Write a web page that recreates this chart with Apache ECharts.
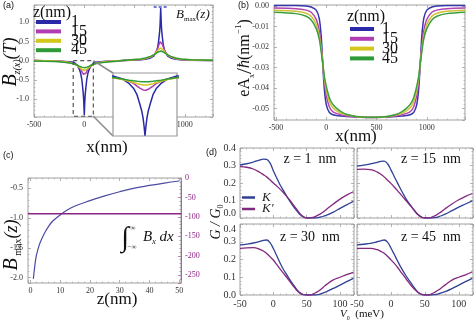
<!DOCTYPE html>
<html><head><meta charset="utf-8">
<script src="https://cdn.jsdelivr.net/npm/echarts@6/dist/echarts.min.js"></script>
<style>html,body{margin:0;padding:0;background:#fff}#c{width:474px;height:327px}</style>
</head><body><div id="c"></div>
<script>
// ================= DATA =================
// panel (a): Bz(x) in T, for z = 1, 15, 30, 45 nm
const zLevels = ['1', '15', '30', '45'];
const aX = [-500,-300,-200,-150,-100,-70,-50,-36,-25,-16,-10,-6,-3,0,3,6,10,16,25,36,50,70,100,150,200,300,380,
  460,560,610,660,690,710,724,735,744,750,754,757,760,763,766,770,776,785,796,810,830,860,910,960,1060,1280];
const aZ1 = [0,-0.01,-0.02,-0.03,-0.05,-0.12,-0.22,-0.33,-0.48,-0.70,-0.86,-1.02,-1.20,-1.42,-1.20,-1.02,-0.86,-0.70,-0.48,-0.33,-0.22,-0.12,-0.05,-0.03,-0.02,-0.01,0,
  0.01,0.02,0.035,0.07,0.12,0.2,0.28,0.42,0.62,0.78,0.95,1.15,1.37,1.15,0.95,0.78,0.62,0.42,0.28,0.2,0.12,0.07,0.035,0.02,0.01,0];
const aZ15 = [0,-0.01,-0.025,-0.04,-0.09,-0.12,-0.17,-0.22,-0.28,-0.33,-0.355,-0.37,-0.377,-0.38,-0.377,-0.37,-0.355,-0.33,-0.28,-0.22,-0.17,-0.12,-0.09,-0.04,-0.025,-0.01,0,
  0.012,0.028,0.045,0.09,0.14,0.21,0.28,0.36,0.43,0.47,0.49,0.5,0.5,0.5,0.49,0.47,0.43,0.36,0.28,0.21,0.14,0.09,0.045,0.028,0.012,0];
const aZ30 = [0,-0.012,-0.03,-0.05,-0.09,-0.13,-0.17,-0.2,-0.225,-0.24,-0.25,-0.255,-0.258,-0.26,-0.258,-0.255,-0.25,-0.24,-0.225,-0.2,-0.17,-0.13,-0.09,-0.05,-0.03,-0.012,0,
  0.015,0.035,0.055,0.1,0.15,0.2,0.245,0.28,0.305,0.318,0.325,0.33,0.33,0.33,0.325,0.318,0.305,0.28,0.245,0.2,0.15,0.1,0.055,0.035,0.015,0];
const aZ45 = [-0.008,-0.02,-0.045,-0.065,-0.085,-0.12,-0.145,-0.16,-0.17,-0.177,-0.181,-0.183,-0.184,-0.185,-0.184,-0.183,-0.181,-0.177,-0.17,-0.16,-0.145,-0.12,-0.085,-0.065,-0.045,-0.02,0,
  0.02,0.045,0.07,0.11,0.15,0.18,0.205,0.225,0.24,0.246,0.249,0.25,0.25,0.25,0.249,0.246,0.24,0.225,0.205,0.18,0.15,0.11,0.07,0.045,0.02,0.008];
const insetX = [-100, 100];
const insetY = [-1.43, 0.02];
const zoomBoxX = [-110, 90];
const zoomBoxY = [0.0, -1.45];
const bmaxLineX = [690, 830];
const bmaxLineY = 1.40;

// panel (b): eA_x/hbar (nm^-1)
const bX = [-520,-300,-200,-150,-100,-70,-50,-35,-20,0,30,60,100,150,200,300,450,600,700,750,800,840,870,900,920,935,950,970,1000,1050,1100,1200,1380];
const bZ1  = [0.0002,0.0002,0,-0.0005,-0.002,-0.006,-0.015,-0.028,-0.040,-0.048,-0.0518,-0.0528,-0.0533,-0.0536,-0.0538,-0.054,-0.0541,-0.054,-0.0538,-0.0536,-0.0533,-0.0528,-0.0518,-0.048,-0.040,-0.028,-0.015,-0.006,-0.002,-0.0005,0,0.0002,0.0002];
const bZ15 = [-0.001,-0.0013,-0.002,-0.003,-0.0065,-0.012,-0.0195,-0.028,-0.0365,-0.0435,-0.049,-0.0512,-0.0523,-0.053,-0.0535,-0.054,-0.0543,-0.054,-0.0535,-0.053,-0.0523,-0.0512,-0.049,-0.0435,-0.0365,-0.028,-0.0195,-0.012,-0.0065,-0.003,-0.002,-0.0013,-0.001];
const bZ30 = [-0.002,-0.0025,-0.0035,-0.005,-0.009,-0.0145,-0.021,-0.028,-0.035,-0.041,-0.0465,-0.0492,-0.051,-0.0523,-0.053,-0.0539,-0.0543,-0.0539,-0.053,-0.0523,-0.051,-0.0492,-0.0465,-0.041,-0.035,-0.028,-0.021,-0.0145,-0.009,-0.005,-0.0035,-0.0025,-0.002];
const bZ45 = [-0.003,-0.0037,-0.005,-0.0068,-0.011,-0.016,-0.0225,-0.028,-0.034,-0.039,-0.0445,-0.0475,-0.0497,-0.0515,-0.0527,-0.0538,-0.0543,-0.0538,-0.0527,-0.0515,-0.0497,-0.0475,-0.0445,-0.039,-0.034,-0.028,-0.0225,-0.016,-0.011,-0.0068,-0.005,-0.0037,-0.003];

// panel (c): Bmax(z) and integral of Bx
const cZ = [1,1.5,2,3,4,5,6,7,8,10,12,15,20,25,30,35,40,45,50];
const cBmax = [-2.02,-1.8,-1.63,-1.45,-1.33,-1.23,-1.15,-1.08,-1.03,-0.95,-0.88,-0.8,-0.71,-0.63,-0.56,-0.5,-0.455,-0.415,-0.38];
const cIntZ = [-0.8, 50.6];
const cInt = [-92, -92];

// panel (d): G/G0 vs V0 (meV)
const dV = [-50,-40,-30,-20,-15,-10,-5,0,5,10,15,20,25,30,35,40,45,50,55,60,65,70,75,80,90,100,110,120];
const dTitles = ['z = 1  nm', 'z = 15  nm', 'z = 30  nm', 'z = 45  nm'];
const dK1  = [0.303,0.31,0.32,0.332,0.337,0.335,0.315,0.27,0.23,0.19,0.158,0.125,0.095,0.067,0.042,0.02,0.006,0,0,0,0.001,0.005,0.01,0.016,0.034,0.055,0.075,0.095];
const dKp1 = [0.293,0.29,0.28,0.26,0.248,0.235,0.218,0.2,0.183,0.165,0.145,0.124,0.1,0.075,0.05,0.025,0.008,0,0,0.004,0.012,0.022,0.035,0.05,0.08,0.108,0.131,0.15];
const dK15  = [0.297,0.302,0.309,0.318,0.324,0.325,0.31,0.275,0.236,0.198,0.16,0.125,0.093,0.066,0.042,0.02,0.006,0,0,0,0.002,0.007,0.014,0.022,0.042,0.062,0.08,0.098];
const dKp15 = [0.278,0.279,0.277,0.262,0.25,0.235,0.216,0.198,0.177,0.155,0.132,0.11,0.087,0.065,0.04,0.018,0.004,0,0,0.004,0.013,0.025,0.038,0.053,0.08,0.104,0.124,0.14];
const dK30  = [0.282,0.287,0.293,0.302,0.308,0.31,0.295,0.262,0.222,0.182,0.145,0.115,0.085,0.058,0.032,0.012,0.002,0,0,0,0.001,0.005,0.012,0.019,0.037,0.056,0.075,0.094];
const dKp30 = [0.263,0.266,0.267,0.257,0.248,0.234,0.216,0.197,0.172,0.147,0.123,0.1,0.075,0.05,0.027,0.01,0.002,0,0,0.006,0.016,0.028,0.044,0.06,0.085,0.1,0.115,0.128];
const dK45  = [0.282,0.286,0.291,0.3,0.305,0.31,0.298,0.265,0.228,0.19,0.154,0.122,0.092,0.066,0.038,0.015,0.003,0,0,0,0.002,0.007,0.013,0.019,0.036,0.056,0.075,0.094];
const dKp45 = [0.263,0.263,0.263,0.255,0.246,0.235,0.218,0.198,0.178,0.155,0.128,0.103,0.077,0.052,0.032,0.014,0.003,0,0,0.006,0.016,0.028,0.042,0.057,0.084,0.1,0.113,0.131];

// ================= STYLE / BUILD =================
const serif = '"Liberation Serif","DejaVu Serif",serif';
const FC = '#a0a0a0';
const colA = ['#2a2aa8', '#b23db3', '#d4c71c', '#2e9b36'];
const colB = ['#3535ad', '#b444b4', '#cfc235', '#3d9f3d'];
const cBlue = '#4b4ba3', cPurple = '#8c2484';
const kBlue = '#2f4296', kPurple = '#83287f';

function pairs(xs, ys) { return xs.map((x, i) => [x, ys[i]]); }

function mkAxis(gi, pos, min, max, o) {
  o = o || {};
  const a = {
    type: 'value', gridIndex: gi, position: pos, min: min, max: max,
    axisLine: { show: !!o.lineColor, onZero: false, lineStyle: { color: o.lineColor || FC, width: 1 } },
    axisTick: { show: true, inside: true, length: 3, lineStyle: { color: o.tickColor || FC, width: 0.8 } },
    minorTick: { show: true, splitNumber: o.minor || 5, length: 1.5, lineStyle: { color: o.tickColor || FC, width: 0.6 } },
    splitLine: { show: false },
    axisLabel: { show: !!o.fmt, fontFamily: serif, fontSize: o.fs || 8, color: o.labelColor || '#333',
      margin: o.margin || 4, showMinLabel: !!o.showMin, showMaxLabel: !!o.showMax }
  };
  if (o.fmt) a.axisLabel.formatter = o.fmt;
  if (o.interval !== undefined) a.interval = o.interval;
  if (o.splitNumber !== undefined) a.splitNumber = o.splitNumber;
  if (o.hidden) a.show = false;
  return a;
}

const grids = [
  { left: 34, top: 5, width: 179, height: 112 },                 // 0 a
  { left: 113, top: 73, width: 64, height: 63, z: 5, backgroundColor: '#fff', borderColor: '#9a9a9a', borderWidth: 1.2 }, // 1 inset
  { left: 274, top: 5, width: 191, height: 115 },                // 2 b
  { left: 28, top: 178, width: 153, height: 105 },               // 3 c
  { left: 240, top: 148, width: 114, height: 70 },               // 4 d TL
  { left: 357, top: 148, width: 116, height: 70 },               // 5 d TR
  { left: 240, top: 224, width: 114, height: 71 },               // 6 d BL
  { left: 357, top: 224, width: 116, height: 71 }                // 7 d BR
].map(g => Object.assign({ show: true, borderColor: FC, borderWidth: 1, containLabel: false, outerBoundsMode: 'none' }, g));

const f1 = v => v.toFixed(1), f2 = v => v.toFixed(2), f0 = v => String(Math.round(v));
const xAxes = [
  mkAxis(0, 'bottom', -500, 1280, { interval: 500, fmt: v => (v === 500 ? '' : String(v)), showMin: true }),
  mkAxis(1, 'bottom', insetX[0], insetX[1], { hidden: true }),
  mkAxis(2, 'bottom', -520, 1380, { splitNumber: 4, fmt: f0 }),
  mkAxis(3, 'bottom', -0.8, 50.6, { splitNumber: 5, fmt: f0 }),
  mkAxis(4, 'bottom', -50, 121, { interval: 50 }),
  mkAxis(5, 'bottom', -50, 121, { interval: 50 }),
  mkAxis(6, 'bottom', -50, 121, { interval: 50, fmt: f0, fs: 10, showMin: true }),
  mkAxis(7, 'bottom', -50, 121, { interval: 50, fmt: f0, fs: 10, showMin: true }),
  mkAxis(0, 'top', -500, 1280, { interval: 500 }),
  mkAxis(2, 'top', -520, 1380, { splitNumber: 4 }),
  mkAxis(3, 'top', -0.8, 50.6, { splitNumber: 5 }),
  mkAxis(4, 'top', -50, 121, { interval: 50 }),
  mkAxis(5, 'top', -50, 121, { interval: 50 }),
  mkAxis(6, 'top', -50, 121, { interval: 50 }),
  mkAxis(7, 'top', -50, 121, { interval: 50 })
];
const yAxes = [
  mkAxis(0, 'left', -1.47, 1.45, { splitNumber: 5, fmt: f1, margin: 5 }),
  mkAxis(1, 'left', insetY[0], insetY[1], { hidden: true }),
  mkAxis(2, 'left', -0.0555, 0.0005, { splitNumber: 5, fmt: f2, margin: 5 }),
  mkAxis(3, 'left', -2.09, -0.33, { splitNumber: 4, fmt: f1, margin: 5 }),
  mkAxis(3, 'right', -270, 0, { splitNumber: 4, fmt: f0, labelColor: cPurple, tickColor: '#a06aa0', lineColor: '#a06aa0', showMax: true, margin: 4 }),
  mkAxis(4, 'left', 0, 0.4, { interval: 0.1, fmt: f1, fs: 10, showMin: true, showMax: true }),
  mkAxis(5, 'left', 0, 0.4, { interval: 0.1 }),
  mkAxis(6, 'left', 0, 0.4, { interval: 0.1, fmt: f1, fs: 10, showMin: true, showMax: true }),
  mkAxis(7, 'left', 0, 0.4, { interval: 0.1 }),
  mkAxis(0, 'right', -1.47, 1.45, { splitNumber: 5 }),
  mkAxis(2, 'right', -0.0555, 0.0005, { splitNumber: 5 }),
  mkAxis(4, 'right', 0, 0.4, { interval: 0.1 }),
  mkAxis(5, 'right', 0, 0.4, { interval: 0.1 }),
  mkAxis(6, 'right', 0, 0.4, { interval: 0.1 }),
  mkAxis(7, 'right', 0, 0.4, { interval: 0.1 })
];
yAxes[5].axisLabel.verticalAlignMinLabel = 'bottom';
yAxes[7].axisLabel.verticalAlignMaxLabel = 'top';

const series = [];
const aData = [aZ1, aZ15, aZ30, aZ45];
const bData = [bZ1, bZ15, bZ30, bZ45];
aData.forEach((ys, i) => {
  series.push({ type: 'line', name: zLevels[i], xAxisIndex: 0, yAxisIndex: 0, data: pairs(aX, ys),
    showSymbol: false, lineStyle: { width: 1.5, color: colA[i] }, itemStyle: { color: colA[i] }, animation: false });
});
aData.forEach((ys, i) => {
  series.push({ type: 'line', name: 'inset' + zLevels[i], xAxisIndex: 1, yAxisIndex: 1, data: pairs(aX, ys), z: 6,
    showSymbol: false, clip: true, lineStyle: { width: 1.5, color: colA[i] }, itemStyle: { color: colA[i] }, animation: false });
});
series.push({ type: 'line', name: 'zoombox', xAxisIndex: 0, yAxisIndex: 0, showSymbol: false, animation: false,
  data: [[zoomBoxX[0], zoomBoxY[0]], [zoomBoxX[1], zoomBoxY[0]], [zoomBoxX[1], zoomBoxY[1]], [zoomBoxX[0], zoomBoxY[1]], [zoomBoxX[0], zoomBoxY[0]]],
  lineStyle: { color: '#555', width: 1.2, type: [4, 3] } });
series.push({ type: 'line', name: 'bmaxline', xAxisIndex: 0, yAxisIndex: 0, showSymbol: false, animation: false,
  data: [[bmaxLineX[0], bmaxLineY], [bmaxLineX[1], bmaxLineY]],
  lineStyle: { color: '#4a4ad0', width: 1.5, type: [3, 2] } });
bData.forEach((ys, i) => {
  series.push({ type: 'line', name: zLevels[i], xAxisIndex: 2, yAxisIndex: 2, data: pairs(bX, ys), smooth: 0.3,
    showSymbol: false, lineStyle: { width: 1.5, color: colB[i] }, itemStyle: { color: colB[i] }, animation: false });
});
series.push({ type: 'line', name: 'Bmax', xAxisIndex: 3, yAxisIndex: 3, data: pairs(cZ, cBmax), smooth: 0.4,
  showSymbol: false, lineStyle: { width: 1.2, color: cBlue }, animation: false });
series.push({ type: 'line', name: 'integral', xAxisIndex: 3, yAxisIndex: 4, data: pairs(cIntZ, cInt),
  showSymbol: false, lineStyle: { width: 1.5, color: cPurple }, animation: false });
const dK = [dK1, dK15, dK30, dK45], dKp = [dKp1, dKp15, dKp30, dKp45];
for (let p = 0; p < 4; p++) {
  series.push({ type: 'line', name: 'K', xAxisIndex: 4 + p, yAxisIndex: 5 + p, data: pairs(dV, dK[p]), smooth: 0.4,
    showSymbol: false, lineStyle: { width: 1.3, color: kBlue }, itemStyle: { color: kBlue }, animation: false });
  series.push({ type: 'line', name: "K'", xAxisIndex: 4 + p, yAxisIndex: 5 + p, data: pairs(dV, dKp[p]), smooth: 0.4,
    showSymbol: false, lineStyle: { width: 1.3, color: kPurple }, itemStyle: { color: kPurple }, animation: false });
}

const legends = [
  { data: zLevels, left: 36, top: 14, orient: 'vertical', icon: 'rect', itemWidth: 25, itemHeight: 4, itemGap: -6.6, padding: 0,
    selectedMode: false, textStyle: { fontFamily: serif, fontSize: 16, color: '#111', padding: [0, 0, 0, 5] } },
  { data: zLevels, left: 350, top: 21, orient: 'vertical', icon: 'rect', itemWidth: 24, itemHeight: 4, itemGap: -6.2, padding: 0,
    selectedMode: false, textStyle: { fontFamily: serif, fontSize: 16, color: '#111', padding: [0, 0, 0, 3] } },
  { data: ['K', "K'"], left: 242, top: 191, orient: 'vertical', icon: 'rect', itemWidth: 13, itemHeight: 2.5, itemGap: -1.5, padding: 0,
    selectedMode: false, textStyle: { fontFamily: serif, fontSize: 13, fontStyle: 'italic', color: '#222', padding: [0, 0, 0, 2] } }
];

function txt(x, y, text, font, extra) {
  return { type: 'text', x: x, y: y, z: 20, style: Object.assign({ text: text, fontFamily: serif, fontSize: font, fill: '#111', align: 'center', verticalAlign: 'middle' }, extra || {}) };
}
function rtxt(x, y, text, rich, rot, align) {
  return { type: 'text', x: x, y: y, z: 20, rotation: rot || 0,
    style: { text: text, rich: rich, align: align || 'center', verticalAlign: 'middle', fill: '#111' } };
}
const R = (fs, it, va, lh) => ({ fontFamily: serif, fontSize: fs, fontStyle: it ? 'italic' : 'normal', verticalAlign: va || 'middle', lineHeight: lh || fs, fill: '#111' });

const graphics = [
  txt(3, 6, '(a)', 9, { align: 'left', fontFamily: '"Liberation Sans",sans-serif' }),
  txt(238, 6, '(b)', 9, { align: 'left', fontFamily: '"Liberation Sans",sans-serif' }),
  txt(3, 156, '(c)', 9, { align: 'left', fontFamily: '"Liberation Sans",sans-serif' }),
  txt(206, 153, '(d)', 9, { align: 'left', fontFamily: '"Liberation Sans",sans-serif' }),
  txt(52, 13, 'z(nm)', 16),
  txt(366, 17, 'z(nm)', 16),
  txt(107, 148, 'x(nm)', 17),
  txt(356, 137, 'x(nm)', 17),
  txt(117, 300, 'z(nm)', 17),
  rtxt(176, 15, '{b|B}{s|max}{t|(z)}', { b: R(13, true, 'middle', 16), s: R(7, false, 'bottom', 7), t: R(13, true, 'middle', 16) }, 0, 'left'),
  rtxt(11, 62, '{b|B}{s|z(x)}{t|(T)}', { b: R(20, true, 'middle', 22), s: R(10, true, 'bottom', 10), t: R(18, true, 'middle', 22) }, Math.PI / 2),
  rtxt(245, 58, '{a|eA}{s|x}{c|/}{h|ħ}{a|(nm}{p|−1}{a|)}', { a: R(16, false, 'middle', 22), s: R(8, false, 'bottom', 8), c: R(22, false, 'middle', 22), h: R(16, true, 'middle', 22), p: R(9, false, 'top', 9) }, Math.PI / 2),
  rtxt(12, 245, '{b|B}{s| max}{t|(z)}', { b: R(20, true, 'middle', 22), s: R(10, false, 'bottom', 10), t: R(18, true, 'middle', 22) }, Math.PI / 2),
  txt(125, 239, '∫', 28, { fontStyle: 'italic' }),
  txt(133, 228, '∞', 7),
  txt(132, 247, '−∞', 7),
  rtxt(143, 237, '{b|B}{s|x}{d| dx}', { b: R(15, true, 'middle', 18), s: R(8, true, 'bottom', 8), d: R(15, true, 'middle', 18) }, 0, 'left'),
  txt(310, 159, dTitles[0], 14),
  txt(431, 159, dTitles[1], 14),
  txt(310, 237, dTitles[2], 14),
  txt(431, 237, dTitles[3], 14),
  rtxt(362, 314, '{v|V}{s|0}{m|  (meV)}', { v: R(11, true, 'middle', 14), s: R(6, false, 'bottom', 6), m: R(11, false, 'middle', 14) }, 0),
  rtxt(216, 222, '{g|G / G}{s|0}', { g: R(14, true, 'middle', 17), s: R(8, false, 'bottom', 8) }, Math.PI / 2)
];

const chart = echarts.init(document.getElementById('c'), null, { renderer: 'canvas', width: 474, height: 327 });
chart.setOption({
  animation: false,
  backgroundColor: '#fff',
  grid: grids, xAxis: xAxes, yAxis: yAxes, series: series, legend: legends,
  graphic: { elements: graphics }
});

const p1 = chart.convertToPixel({ xAxisIndex: 0, yAxisIndex: 0 }, [zoomBoxX[1], zoomBoxY[0]]);
const p2 = chart.convertToPixel({ xAxisIndex: 0, yAxisIndex: 0 }, [zoomBoxX[1], zoomBoxY[1]]);
const q1 = chart.convertToPixel({ xAxisIndex: 1, yAxisIndex: 1 }, [insetX[0], insetY[1]]);
const q2 = chart.convertToPixel({ xAxisIndex: 1, yAxisIndex: 1 }, [insetX[0], insetY[0]]);
chart.setOption({ graphic: { elements: [
  { id: 'con1', type: 'line', z: 4, shape: { x1: p1[0], y1: p1[1], x2: q1[0], y2: q1[1] }, style: { stroke: '#8a8a8a', lineWidth: 1.5 } },
  { id: 'con2', type: 'line', z: 4, shape: { x1: p2[0], y1: p2[1], x2: q2[0], y2: q2[1] }, style: { stroke: '#8a8a8a', lineWidth: 1.5 } }
] } });
</script>
</body></html>
